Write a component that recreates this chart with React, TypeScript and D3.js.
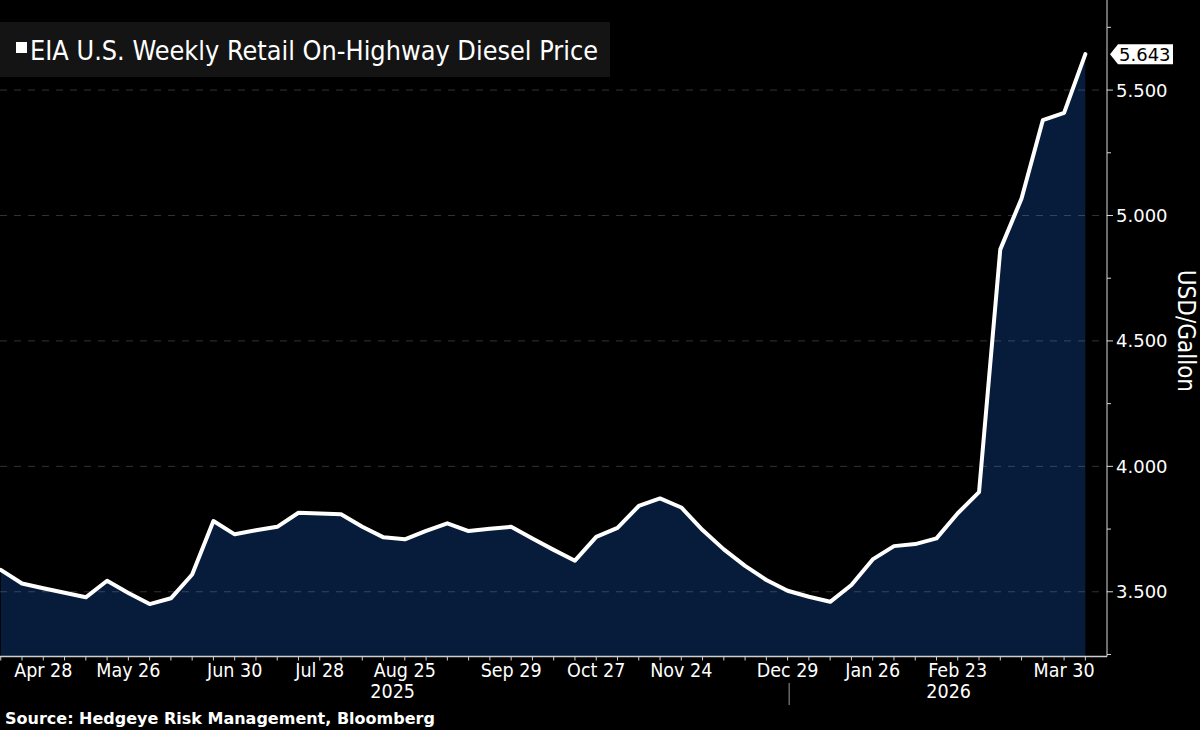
import React from "react";
import * as d3 from "d3";

const weekDates = [
  "2025-04-14", "2025-04-21", "2025-04-28", "2025-05-05", "2025-05-12", "2025-05-19",
  "2025-05-26", "2025-06-02", "2025-06-09", "2025-06-16", "2025-06-23", "2025-06-30",
  "2025-07-07", "2025-07-14", "2025-07-21", "2025-07-28", "2025-08-04", "2025-08-11",
  "2025-08-18", "2025-08-25", "2025-09-01", "2025-09-08", "2025-09-15", "2025-09-22",
  "2025-09-29", "2025-10-06", "2025-10-13", "2025-10-20", "2025-10-27", "2025-11-03",
  "2025-11-10", "2025-11-17", "2025-11-24", "2025-12-01", "2025-12-08", "2025-12-15",
  "2025-12-22", "2025-12-29", "2026-01-05", "2026-01-12", "2026-01-19", "2026-01-26",
  "2026-02-02", "2026-02-09", "2026-02-16", "2026-02-23", "2026-03-02", "2026-03-09",
  "2026-03-16", "2026-03-23", "2026-03-30", "2026-04-06",
];

const dieselPrice = [
  3.587, 3.533, 3.514, 3.496, 3.478, 3.544,
  3.495, 3.451, 3.474, 3.569, 3.782, 3.729,
  3.745, 3.759, 3.815, 3.812, 3.809, 3.759,
  3.717, 3.709, 3.743, 3.773, 3.742, 3.751,
  3.759, 3.712, 3.667, 3.624, 3.719, 3.755,
  3.842, 3.872, 3.836, 3.746, 3.669, 3.603,
  3.547, 3.504, 3.480, 3.460, 3.527, 3.629,
  3.682, 3.690, 3.713, 3.813, 3.897, 4.865,
  5.068, 5.380, 5.409, 5.643,
];

const yTicks = [3.5, 4.0, 4.5, 5.0, 5.5];
const yMinorTicks = [3.25, 3.75, 4.25, 4.75, 5.25, 5.75];

const xTickLabels = ["Apr 28", "May 26", "Jun 30", "Jul 28", "Aug 25", "Sep 29", "Oct 27", "Nov 24", "Dec 29", "Jan 26", "Feb 23", "Mar 30"];
const xTickDates = ["2025-04-28", "2025-05-26", "2025-06-30", "2025-07-28", "2025-08-25", "2025-09-29", "2025-10-27", "2025-11-24", "2025-12-29", "2026-01-26", "2026-02-23", "2026-03-30"];

const yearLabels = ["2025", "2026"];
const yearLabelDates = ["2025-08-21", "2026-02-20"];
const yearSeparatorDate = "2025-12-29T12:00";

const titleText = "EIA U.S. Weekly Retail On-Highway Diesel Price";
const yAxisTitle = "USD/Gallon";
const sourceText = "Source: Hedgeye Risk Management, Bloomberg";
const lastValueLabel = "5.643";

const W = 1200;
const H = 730;
const plotLeft = 0;
const plotRight = 1107;
const plotTop = 0;
const plotBottom = 656.5;

const condensed = "'DejaVu Sans Condensed', 'DejaVu Sans', sans-serif";
const regular = "'DejaVu Sans', Verdana, sans-serif";

export default function App() {
  const parse = (s: string) => {
    const [y, m, d] = s.slice(0, 10).split("-").map(Number);
    const h = s.length > 10 ? Number(s.slice(11, 13)) : 0;
    return new Date(y, m - 1, d, h);
  };

  const x = d3
    .scaleTime()
    .domain([new Date(2025, 3, 13, 18), new Date(2026, 3, 13, 3)])
    .range([plotLeft, plotRight]);

  const y = d3.scaleLinear().domain([3.242, 5.859]).range([plotBottom, plotTop]);

  const data = weekDates.map((d, i) => ({ date: parse(d), value: dieselPrice[i] }));

  const area = d3
    .area<{ date: Date; value: number }>()
    .x((d) => x(d.date))
    .y0(plotBottom)
    .y1((d) => y(d.value));

  const line = d3
    .line<{ date: Date; value: number }>()
    .x((d) => x(d.date))
    .y((d) => y(d.value));

  const last = data[data.length - 1];
  const lastY = y(last.value);

  return (
    <svg
      width={W}
      height={H}
      style={{ position: "absolute", left: 0, top: 0, background: "#000", display: "block" }}
    >
      <rect x={0} y={0} width={W} height={H} fill="#000" />
      <defs>
        <clipPath id="plotClip">
          <rect x={plotLeft} y={plotTop} width={plotRight - plotLeft} height={plotBottom - plotTop} />
        </clipPath>
      </defs>

      <g clipPath="url(#plotClip)">
        <path d={area(data) || ""} fill="#071c3a" />
        {yTicks.map((t) => (
          <line
            key={"g" + t}
            x1={plotLeft}
            x2={plotRight}
            y1={y(t)}
            y2={y(t)}
            stroke="rgba(150,160,175,0.32)"
            strokeWidth={1}
            strokeDasharray="7 7"
          />
        ))}
        <path
          d={line(data) || ""}
          fill="none"
          stroke="#ffffff"
          strokeWidth={4}
          strokeLinejoin="round"
          strokeLinecap="round"
        />
      </g>

      {/* Title box */}
      <rect x={0} y={22} width={610} height={55} fill="#141414" />
      <rect x={16} y={42} width={11} height={11} fill="#ffffff" />
      <text x={30} y={60} fill="#ffffff" fontFamily={condensed} fontSize={26.8}>
        {titleText}
      </text>

      {/* Right axis */}
      <line x1={plotRight} x2={plotRight} y1={plotTop} y2={plotBottom} stroke="#d8d8d8" strokeWidth={1} />
      {yTicks.map((t) => (
        <g key={"yt" + t}>
          <line x1={plotRight} x2={plotRight + 6} y1={y(t)} y2={y(t)} stroke="#d8d8d8" strokeWidth={1} />
          <text
            x={plotRight + 9}
            y={y(t)}
            dy="0.36em"
            fill="#ffffff"
            fontFamily={regular}
            fontSize={18}
          >
            {d3.format(".3f")(t)}
          </text>
        </g>
      ))}
      {yMinorTicks.map((t) => (
        <line key={"ym" + t} x1={plotRight} x2={plotRight + 4} y1={y(t)} y2={y(t)} stroke="#d8d8d8" strokeWidth={1} />
      ))}

      {/* Last value label */}
      <g>
        <path
          d={`M${plotRight + 3},${lastY} L${plotRight + 11},${lastY - 10} L${plotRight + 66},${lastY - 10} L${plotRight + 66},${lastY + 10} L${plotRight + 11},${lastY + 10} Z`}
          fill="#ffffff"
        />
        <text
          x={plotRight + 12}
          y={lastY}
          dy="0.36em"
          fill="#000000"
          fontFamily={regular}
          fontSize={18}
        >
          {lastValueLabel}
        </text>
      </g>

      {/* Y axis title */}
      <text
        transform={`translate(${1178},${y(4.54)}) rotate(90)`}
        textAnchor="middle"
        fill="#ffffff"
        fontFamily={condensed}
        fontSize={24}
      >
        {yAxisTitle}
      </text>

      {/* Bottom axis */}
      <line x1={plotLeft} x2={plotRight} y1={plotBottom} y2={plotBottom} stroke="#cfcfcf" strokeWidth={1.5} />
      {data.map((d, i) => (
        <line
          key={"xt" + i}
          x1={x(d.date)}
          x2={x(d.date)}
          y1={plotBottom}
          y2={plotBottom + 4}
          stroke="#cfcfcf"
          strokeWidth={1}
        />
      ))}
      {xTickLabels.map((lab, i) => (
        <text
          key={"xl" + lab}
          x={x(parse(xTickDates[i]))}
          y={677}
          textAnchor="middle"
          fill="#ffffff"
          fontFamily={condensed}
          fontSize={19.5}
        >
          {lab}
        </text>
      ))}
      {yearLabels.map((lab, i) => (
        <text
          key={"yr" + lab}
          x={x(parse(yearLabelDates[i]))}
          y={698}
          textAnchor="middle"
          fill="#ffffff"
          fontFamily={condensed}
          fontSize={19.5}
        >
          {lab}
        </text>
      ))}
      <line
        x1={x(parse(yearSeparatorDate))}
        x2={x(parse(yearSeparatorDate))}
        y1={683}
        y2={705}
        stroke="#9a9a9a"
        strokeWidth={1}
      />

      {/* Source */}
      <text x={5} y={724} fill="#ffffff" fontFamily={regular} fontWeight="bold" fontSize={16}>
        {sourceText}
      </text>
    </svg>
  );
}
